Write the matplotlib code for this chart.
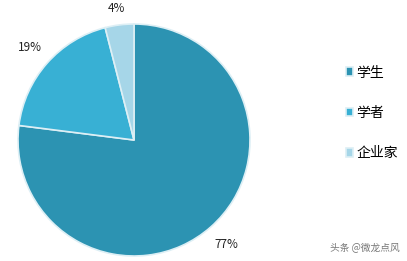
import matplotlib
matplotlib.use("Agg")
import matplotlib.pyplot as plt

plt.rcParams['font.family'] = ['Noto Sans CJK SC', 'DejaVu Sans']

# datos del grafico
labels = ["学生", "学者", "企业家"]
values = [77, 19, 4]
colors = ["#2C93B2", "#38B0D4", "#A6D6E8"]

fig = plt.figure(figsize=(4.07, 2.61), dpi=100)
ax = fig.add_axes([18 / 407, 5 / 261, 232 / 407, 232 / 261])

wedges, texts, autotexts = ax.pie(
    values, colors=colors, startangle=90, counterclock=False,
    autopct="%.0f%%", pctdistance=1.2, radius=1.0,
    wedgeprops=dict(edgecolor="#DDEFF5", linewidth=1.2))
for t in autotexts:
    t.set_fontsize(8.5)
    t.set_color("#222222")
# la etiqueta pequena de arriba queda un poco mas cerca del borde
x4, y4 = autotexts[2].get_position()
autotexts[2].set_position((x4 * 1.0, y4 * 0.95))
ax.set_xlim(-1, 1); ax.set_ylim(-1, 1)
ax.set_aspect("equal")

fig.legend(wedges, labels, loc="upper left", bbox_to_anchor=(340 / 407, 1 - 60 / 261),
           frameon=False, fontsize=10, handlelength=0.55, handleheight=0.55,
           handletextpad=0.25, labelspacing=1.9, borderaxespad=0)

fig.text(400 / 407, 1 - 247 / 261, "头条 @微龙点风", ha="right", va="center",
         fontsize=7, color="#777777")

fig.savefig("out.png", dpi=100)
